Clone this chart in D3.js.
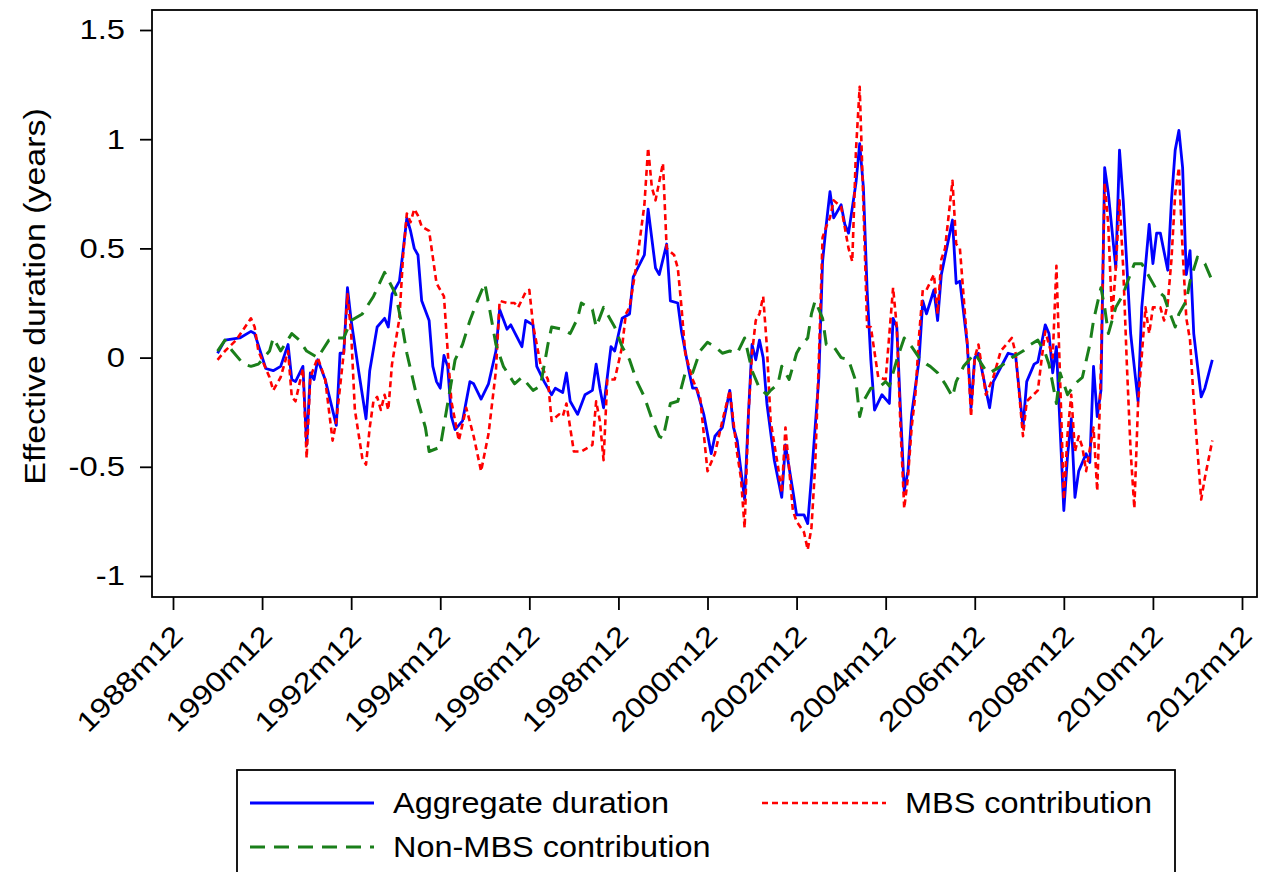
<!DOCTYPE html>
<html>
<head>
<meta charset="utf-8">
<script src="https://cdn.jsdelivr.net/npm/d3@7"></script>
<style>
  body { margin: 0; background: #fff; }
  text { font-family: "Liberation Sans", Arial, Helvetica, sans-serif; fill: #000; }
</style>
</head>
<body>
<svg id="chart" width="1261" height="872"></svg>
<script>
// Monthly effective duration (years), Stata-style monthly dates "YYYYmM"
const aggregateDuration = [
  ["1989m12",0.02],["1990m2",0.08],["1990m6",0.09],["1990m9",0.12],["1990m10",0.11],["1991m1",-0.05],["1991m3",-0.06],["1991m5",-0.04],["1991m7",0.06],["1991m8",-0.10],["1991m9",-0.11],["1991m11",-0.04],["1991m12",-0.40],["1992m1",-0.07],["1992m2",-0.10],["1992m3",-0.01],["1992m5",-0.10],["1992m8",-0.31],["1992m9",0.02],["1992m10",0.02],["1992m11",0.32],["1992m12",0.17],["1993m2",-0.06],["1993m4",-0.28],["1993m5",-0.06],["1993m7",0.14],["1993m9",0.18],["1993m10",0.14],["1993m11",0.29],["1994m1",0.35],["1994m2",0.49],["1994m3",0.64],["1994m4",0.58],["1994m5",0.50],["1994m6",0.47],["1994m7",0.26],["1994m9",0.17],["1994m10",-0.04],["1994m11",-0.11],["1994m12",-0.14],["1995m1",0.01],["1995m2",-0.04],["1995m3",-0.27],["1995m4",-0.33],["1995m6",-0.29],["1995m8",-0.11],["1995m9",-0.12],["1995m11",-0.19],["1996m1",-0.12],["1996m3",0.03],["1996m4",0.22],["1996m6",0.13],["1996m7",0.15],["1996m10",0.05],["1996m11",0.17],["1997m1",0.15],["1997m2",-0.04],["1997m4",-0.11],["1997m6",-0.17],["1997m7",-0.14],["1997m9",-0.16],["1997m10",-0.07],["1997m11",-0.20],["1998m1",-0.26],["1998m3",-0.17],["1998m5",-0.15],["1998m6",-0.03],["1998m7",-0.14],["1998m8",-0.23],["1998m10",0.05],["1998m11",0.03],["1999m1",0.18],["1999m3",0.20],["1999m4",0.37],["1999m7",0.47],["1999m8",0.68],["1999m10",0.41],["1999m11",0.38],["2000m1",0.52],["2000m2",0.26],["2000m4",0.25],["2000m5",0.12],["2000m7",-0.06],["2000m8",-0.14],["2000m9",-0.14],["2000m11",-0.26],["2001m1",-0.44],["2001m2",-0.36],["2001m4",-0.32],["2001m6",-0.15],["2001m7",-0.32],["2001m8",-0.38],["2001m10",-0.65],["2001m11",-0.27],["2001m12",0.06],["2002m1",-0.01],["2002m2",0.08],["2002m3",0.00],["2002m4",-0.21],["2002m6",-0.47],["2002m8",-0.64],["2002m9",-0.40],["2002m11",-0.61],["2002m12",-0.72],["2003m2",-0.72],["2003m3",-0.76],["2003m4",-0.55],["2003m6",-0.09],["2003m7",0.44],["2003m8",0.61],["2003m9",0.76],["2003m10",0.64],["2003m12",0.70],["2004m1",0.61],["2004m2",0.57],["2004m4",0.80],["2004m5",0.98],["2004m6",0.78],["2004m7",0.31],["2004m8",-0.01],["2004m9",-0.24],["2004m11",-0.17],["2005m1",-0.21],["2005m2",0.18],["2005m3",0.14],["2005m4",-0.24],["2005m5",-0.61],["2005m6",-0.52],["2005m7",-0.26],["2005m9",-0.01],["2005m10",0.26],["2005m11",0.20],["2006m1",0.31],["2006m2",0.17],["2006m3",0.38],["2006m6",0.63],["2006m7",0.34],["2006m8",0.35],["2006m10",0.06],["2006m11",-0.23],["2006m12",0.00],["2007m1",0.02],["2007m4",-0.23],["2007m5",-0.11],["2007m9",0.02],["2007m11",0.01],["2008m1",-0.32],["2008m2",-0.11],["2008m4",-0.03],["2008m5",-0.02],["2008m7",0.15],["2008m8",0.11],["2008m9",-0.07],["2008m10",0.05],["2008m12",-0.70],["2009m1",-0.45],["2009m2",-0.28],["2009m3",-0.64],["2009m4",-0.52],["2009m6",-0.44],["2009m7",-0.48],["2009m8",-0.04],["2009m9",-0.27],["2009m10",-0.15],["2009m11",0.87],["2009m12",0.75],["2010m2",0.41],["2010m3",0.95],["2010m4",0.72],["2010m6",0.11],["2010m8",-0.20],["2010m9",0.23],["2010m11",0.61],["2010m12",0.43],["2011m1",0.57],["2011m2",0.57],["2011m4",0.40],["2011m5",0.72],["2011m6",0.95],["2011m7",1.04],["2011m8",0.87],["2011m9",0.38],["2011m10",0.49],["2011m11",0.11],["2012m1",-0.18],["2012m2",-0.14],["2012m4",-0.01]
];

const mbsContribution = [
  ["1989m12",-0.01],["1990m2",0.03],["1990m5",0.08],["1990m9",0.18],["1990m10",0.14],["1990m11",0.03],["1991m2",-0.09],["1991m3",-0.15],["1991m5",-0.09],["1991m7",0.03],["1991m8",-0.18],["1991m9",-0.20],["1991m11",-0.05],["1991m12",-0.46],["1992m1",-0.09],["1992m3",0.00],["1992m5",-0.10],["1992m7",-0.38],["1992m8",-0.29],["1992m10",0.02],["1992m11",0.29],["1992m12",0.11],["1993m1",-0.24],["1993m3",-0.46],["1993m4",-0.49],["1993m5",-0.32],["1993m6",-0.20],["1993m7",-0.18],["1993m8",-0.24],["1993m9",-0.17],["1993m10",-0.24],["1993m11",-0.03],["1994m1",0.18],["1994m2",0.47],["1994m3",0.66],["1994m4",0.62],["1994m5",0.68],["1994m6",0.65],["1994m7",0.60],["1994m9",0.58],["1994m11",0.34],["1995m1",0.28],["1995m2",0.03],["1995m3",-0.20],["1995m5",-0.38],["1995m7",-0.23],["1995m9",-0.36],["1995m11",-0.52],["1996m1",-0.35],["1996m3",-0.06],["1996m4",0.26],["1996m6",0.25],["1996m8",0.25],["1996m9",0.23],["1996m11",0.30],["1996m12",0.31],["1997m1",0.15],["1997m3",-0.03],["1997m5",-0.10],["1997m6",-0.29],["1997m8",-0.26],["1997m9",-0.27],["1997m10",-0.21],["1997m12",-0.43],["1998m2",-0.43],["1998m5",-0.40],["1998m6",-0.20],["1998m7",-0.29],["1998m8",-0.47],["1998m9",-0.10],["1998m11",-0.10],["1999m1",0.05],["1999m2",0.20],["1999m3",0.23],["1999m5",0.44],["1999m7",0.70],["1999m8",0.96],["1999m9",0.78],["1999m10",0.72],["1999m12",0.89],["2000m1",0.50],["2000m3",0.47],["2000m4",0.41],["2000m5",0.23],["2000m6",0.02],["2000m8",-0.10],["2000m10",-0.18],["2000m12",-0.52],["2001m2",-0.44],["2001m4",-0.29],["2001m6",-0.15],["2001m8",-0.44],["2001m9",-0.55],["2001m10",-0.78],["2001m11",-0.27],["2001m12",0.02],["2002m1",0.17],["2002m2",0.20],["2002m3",0.28],["2002m4",0.05],["2002m5",-0.29],["2002m7",-0.50],["2002m8",-0.62],["2002m9",-0.32],["2002m11",-0.70],["2002m12",-0.75],["2003m2",-0.80],["2003m3",-0.88],["2003m4",-0.78],["2003m5",-0.50],["2003m6",-0.01],["2003m7",0.55],["2003m8",0.60],["2003m9",0.64],["2003m10",0.72],["2003m12",0.69],["2004m2",0.50],["2004m3",0.44],["2004m4",0.95],["2004m5",1.24],["2004m6",0.70],["2004m7",0.14],["2004m8",0.14],["2004m10",-0.09],["2004m12",-0.10],["2005m2",0.32],["2005m3",0.14],["2005m4",-0.32],["2005m5",-0.69],["2005m6",-0.55],["2005m7",-0.32],["2005m8",-0.17],["2005m9",0.10],["2005m10",0.31],["2005m11",0.31],["2006m1",0.38],["2006m2",0.20],["2006m3",0.45],["2006m4",0.50],["2006m6",0.81],["2006m7",0.52],["2006m8",0.50],["2006m10",0.06],["2006m11",-0.27],["2006m12",0.00],["2007m1",0.06],["2007m3",-0.17],["2007m5",-0.09],["2007m7",0.03],["2007m10",0.09],["2007m11",0.02],["2008m1",-0.36],["2008m2",-0.20],["2008m5",-0.15],["2008m6",-0.01],["2008m7",0.12],["2008m9",0.00],["2008m10",0.42],["2008m11",-0.10],["2008m12",-0.65],["2009m1",-0.35],["2009m2",-0.17],["2009m3",-0.43],["2009m4",-0.36],["2009m5",-0.41],["2009m6",-0.52],["2009m8",-0.32],["2009m9",-0.61],["2009m10",-0.04],["2009m11",0.80],["2009m12",0.60],["2010m1",0.18],["2010m2",0.41],["2010m3",0.72],["2010m4",0.41],["2010m5",-0.04],["2010m6",-0.43],["2010m7",-0.69],["2010m8",-0.21],["2010m10",0.23],["2010m11",0.11],["2010m12",0.23],["2011m2",0.23],["2011m3",0.17],["2011m4",0.25],["2011m5",0.45],["2011m6",0.75],["2011m7",0.87],["2011m8",0.49],["2011m9",0.18],["2011m10",0.08],["2011m11",-0.20],["2012m1",-0.65],["2012m2",-0.55],["2012m4",-0.38]
];

const nonMbsContribution = [
  ["1989m12",0.03],["1990m2",0.08],["1990m4",0.03],["1990m7",-0.03],["1990m9",-0.04],["1990m11",-0.03],["1991m2",0.03],["1991m3",0.09],["1991m5",0.03],["1991m8",0.11],["1991m10",0.08],["1991m12",0.03],["1992m3",0.00],["1992m6",0.08],["1992m8",0.09],["1992m10",0.09],["1992m12",0.17],["1993m3",0.20],["1993m6",0.28],["1993m9",0.39],["1993m12",0.29],["1994m2",0.12],["1994m3",0.02],["1994m6",-0.20],["1994m8",-0.32],["1994m9",-0.43],["1994m12",-0.41],["1995m2",-0.21],["1995m4",-0.01],["1995m6",0.06],["1995m8",0.17],["1995m10",0.26],["1995m12",0.34],["1996m1",0.25],["1996m3",0.06],["1996m5",-0.04],["1996m8",-0.12],["1996m10",-0.09],["1997m1",-0.15],["1997m3",-0.13],["1997m5",0.06],["1997m6",0.14],["1997m9",0.13],["1997m11",0.11],["1998m1",0.18],["1998m2",0.25],["1998m5",0.22],["1998m6",0.14],["1998m8",0.23],["1998m10",0.17],["1998m11",0.14],["1999m1",0.05],["1999m3",-0.01],["1999m5",-0.11],["1999m7",-0.18],["1999m9",-0.28],["1999m11",-0.36],["1999m12",-0.37],["2000m2",-0.21],["2000m4",-0.20],["2000m6",-0.07],["2000m8",-0.07],["2000m10",0.03],["2000m12",0.07],["2001m2",0.05],["2001m4",0.02],["2001m6",0.03],["2001m8",0.02],["2001m10",0.09],["2001m12",-0.06],["2002m2",-0.14],["2002m4",-0.17],["2002m5",-0.15],["2002m7",-0.12],["2002m8",-0.04],["2002m10",-0.10],["2002m12",0.02],["2003m1",0.05],["2003m3",0.09],["2003m4",0.20],["2003m5",0.26],["2003m7",0.18],["2003m8",0.06],["2003m10",0.05],["2003m12",0.00],["2004m2",-0.01],["2004m4",-0.11],["2004m5",-0.27],["2004m6",-0.20],["2004m8",-0.14],["2004m10",-0.14],["2004m12",-0.11],["2005m1",-0.13],["2005m3",-0.01],["2005m5",0.09],["2005m7",0.05],["2005m9",0.00],["2005m11",-0.03],["2005m12",-0.04],["2006m2",-0.07],["2006m4",-0.12],["2006m6",-0.18],["2006m7",-0.11],["2006m9",-0.04],["2006m11",0.00],["2006m12",0.02],["2007m3",-0.06],["2007m4",-0.07],["2007m7",-0.04],["2007m10",0.00],["2008m1",0.03],["2008m3",0.06],["2008m5",0.08],["2008m7",0.02],["2008m8",-0.03],["2008m10",-0.21],["2008m11",-0.07],["2009m1",-0.17],["2009m3",-0.12],["2009m5",-0.09],["2009m7",0.06],["2009m8",0.17],["2009m10",0.32],["2009m11",0.23],["2009m12",0.11],["2010m2",0.23],["2010m4",0.29],["2010m5",0.34],["2010m7",0.43],["2010m9",0.43],["2010m11",0.37],["2011m1",0.31],["2011m3",0.28],["2011m4",0.23],["2011m6",0.14],["2011m7",0.20],["2011m9",0.26],["2011m10",0.35],["2011m12",0.46],["2012m2",0.43],["2012m4",0.35]
];

const xTickLabels = ["1988m12","1990m12","1992m12","1994m12","1996m12","1998m12","2000m12",
                     "2002m12","2004m12","2006m12","2008m12","2010m12","2012m12"];
const yTickValues = [-1, -0.5, 0, 0.5, 1, 1.5];
const seriesNames = ["Aggregate duration", "MBS contribution", "Non-MBS contribution"];
const yTitle = "Effective duration (years)";

// "1994m5" -> months since 1960m1 (Stata %tm)
function tm(s) {
  const [y, m] = s.split("m").map(Number);
  return (y - 1960) * 12 + (m - 1);
}

// the graph's type face runs a little wider than Arial
const WIDEN = 1.17;

const svg = d3.select("#chart");
const frame = { left: 152, right: 1257, top: 10, bottom: 597 };

const x = d3.scaleLinear().domain([tm("1988m12"), tm("2012m12")]).range([173, 1242]);
const y = d3.scaleLinear().domain([-1, 1.5]).range([576, 30]);

svg.append("rect").attr("width", 1261).attr("height", 872).attr("fill", "#fff");

// y axis
const yAxis = svg.append("g")
  .attr("transform", `translate(${frame.left},0)`)
  .call(d3.axisLeft(y).tickValues(yTickValues).tickFormat(d => String(d)).tickSize(12).tickPadding(15).tickSizeOuter(0));
yAxis.select(".domain").remove();
yAxis.selectAll("line").attr("stroke", "#000").attr("stroke-width", 1.8);
yAxis.selectAll("text")
  .attr("font-size", 28).attr("fill", "#000")
  .attr("x", 0)
  .attr("transform", `translate(-27,0) scale(${WIDEN},1)`);

// x axis
const xAxis = svg.append("g")
  .attr("transform", `translate(0,${frame.bottom})`)
  .call(d3.axisBottom(x).tickValues(xTickLabels.map(tm)).tickFormat((d, i) => xTickLabels[i]).tickSize(13).tickSizeOuter(0));
xAxis.select(".domain").remove();
xAxis.selectAll("line").attr("stroke", "#000").attr("stroke-width", 1.8);
xAxis.selectAll("text")
  .attr("font-size", 28)
  .attr("fill", "#000")
  .attr("text-anchor", "end")
  .attr("x", 0).attr("y", 0).attr("dy", "0.72em")
  .attr("transform", `translate(-3,26) rotate(-45) scale(${WIDEN},1)`);

// y title
svg.append("text")
  .attr("transform", `translate(45,${(frame.top + frame.bottom) / 2 - 7}) rotate(-90) scale(${WIDEN},1)`)
  .attr("text-anchor", "middle")
  .attr("font-size", 29)
  .text(yTitle);

// series
const styles = [
  { data: aggregateDuration, color: "#0000ff", width: 2.8, dash: null },
  { data: mbsContribution, color: "#ff0000", width: 2.6, dash: "6,4" },
  { data: nonMbsContribution, color: "#1a7f1a", width: 3, dash: "15,9" }
];
const line = d3.line().x(d => x(tm(d[0]))).y(d => y(d[1]));

svg.append("g").selectAll("path")
  .data(styles)
  .join("path")
  .attr("d", s => line(s.data))
  .attr("fill", "none")
  .attr("stroke", s => s.color)
  .attr("stroke-width", s => s.width)
  .attr("stroke-linejoin", "round")
  .attr("stroke-dasharray", s => s.dash);

// plot frame
svg.append("rect")
  .attr("x", frame.left).attr("y", frame.top)
  .attr("width", frame.right - frame.left).attr("height", frame.bottom - frame.top)
  .attr("fill", "none").attr("stroke", "#000").attr("stroke-width", 1.8);

// legend
const legend = svg.append("g");
legend.append("rect")
  .attr("x", 237).attr("y", 770).attr("width", 938).attr("height", 120)
  .attr("fill", "#fff").attr("stroke", "#000").attr("stroke-width", 1.8);
const legendItems = [
  { s: styles[0], name: seriesNames[0], lx: 250, ly: 803 },
  { s: styles[1], name: seriesNames[1], lx: 762, ly: 803 },
  { s: styles[2], name: seriesNames[2], lx: 250, ly: 847 }
];
legendItems.forEach(it => {
  legend.append("line")
    .attr("x1", it.lx).attr("x2", it.lx + 124).attr("y1", it.ly).attr("y2", it.ly)
    .attr("stroke", it.s.color).attr("stroke-width", it.s.width)
    .attr("stroke-dasharray", it.s.dash);
  legend.append("text")
    .attr("transform", `translate(${it.lx + 143},${it.ly}) scale(1.12,1)`)
    .attr("dy", "0.36em")
    .attr("font-size", 29)
    .text(it.name);
});
</script>
</body>
</html>
